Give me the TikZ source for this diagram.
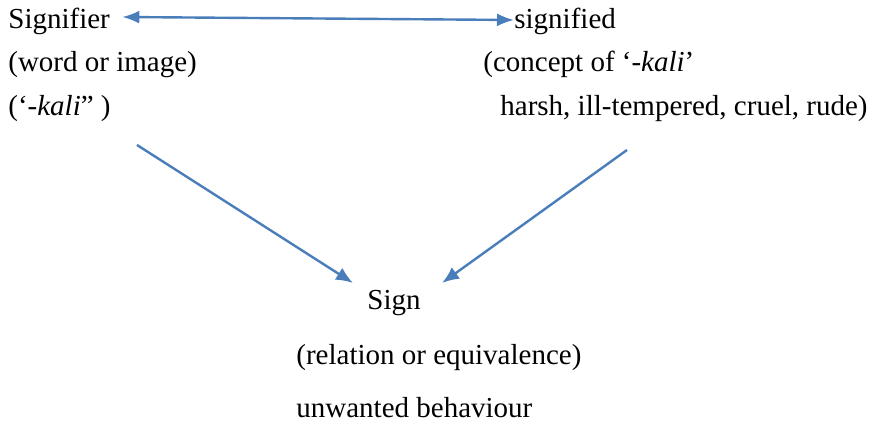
\documentclass[tikz,border=0pt]{standalone}
\usepackage{fontspec}
\setmainfont{Liberation Serif}
\usepackage{xcolor}
\usetikzlibrary{positioning}
\usetikzlibrary{arrows.meta}
\definecolor{linkblue}{HTML}{4A7EBB}
\newcommand{\txtsize}{\fontsize{14.5}{17}\selectfont}

\begin{document}
\begin{tikzpicture}[x=0.5pt,y=-0.5pt,
	word/.style={anchor=base west,inner sep=0pt,font=\txtsize},
	link/.style={draw=linkblue,line width=1.2pt,-{Latex[length=8.5pt,width=7pt]}}]
	\useasboundingbox (0,0) rectangle (873,426);

	% left column
	\node[word] (signifier) at (8,29) {Signifier};
	\node[word] (wordimg) at (8,72) {(word or image)};
	\node[word] (kalileft) at (8,116) {(‘\textit{-kali}” )};

	% right column
	\node[word] (signified) at (514,29) {signified};
	\node[word] (concept) at (483,72) {(concept of ‘\textit{-kali}’};
	\node[word] (harsh) at (500,116) {harsh, ill-tempered, cruel, rude)};

	% bottom
	\node[word] (sign) at (367,310) {Sign};
	\node[word] (relation) at (296,365) {(relation or equivalence)};
	\node[word] (unwanted) at (296,418) {unwanted behaviour};

	\coordinate (lstart) at (137,145);
	\coordinate (lend) at (353,283);
	\coordinate (rstart) at (627,150);
	\coordinate (rend) at (442,283);

	\draw[link,{Latex[length=8.5pt,width=6.5pt]}-{Latex[length=8.5pt,width=6.5pt]}]
		([xshift=6pt,yshift=6pt]signifier.base east) -- ([yshift=4.5pt]signified.base west);
	\draw[link] (lstart) -- (lend);
	\draw[link] (rstart) -- (rend);
\end{tikzpicture}
\end{document}
